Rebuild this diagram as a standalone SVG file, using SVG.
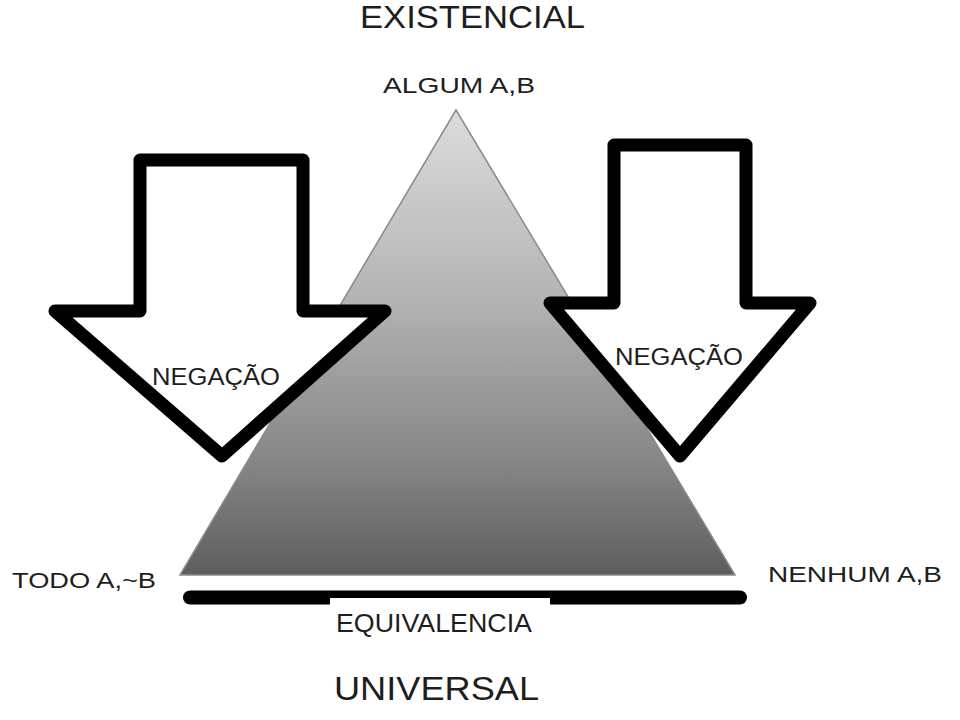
<svg xmlns="http://www.w3.org/2000/svg" width="960" height="720" viewBox="0 0 960 720">
<defs>
<linearGradient id="tri" x1="0" y1="0" x2="0" y2="1">
<stop offset="0" stop-color="#dcdcdc"/>
<stop offset="0.4" stop-color="#b4b4b4"/>
<stop offset="0.75" stop-color="#878787"/>
<stop offset="1" stop-color="#5e5e5e"/>
</linearGradient>
</defs>
<style>
.t{font-family:"Liberation Sans","Open Sans",sans-serif;fill:#1e1e1e}
.arrow{fill:#fff;stroke:#000;stroke-width:13;stroke-linejoin:round}
</style>
<rect width="960" height="720" fill="#fff"/>
<g id="triangle">
<polygon points="456,110 180,575 735,575" fill="url(#tri)" stroke="#8a8a8a" stroke-width="1.5"/>
</g>
<g id="arrow-left">
<polygon class="arrow" points="140,160 303,160 303,311 385,311 222,456 55,311 140,311"/>
<text class="t" x="152" y="385" font-size="23" textLength="128" lengthAdjust="spacingAndGlyphs">NEGAÇÃO</text>
</g>
<g id="arrow-right">
<polygon class="arrow" points="614,145 746,145 746,303 810,303 680,456 550,303 614,303"/>
<text class="t" x="615" y="365" font-size="23" textLength="128" lengthAdjust="spacingAndGlyphs">NEGAÇÃO</text>
</g>
<g id="connectors">
<line x1="190" y1="597.5" x2="740" y2="597.5" stroke="#000" stroke-width="14" stroke-linecap="round"/>
<rect x="330" y="598" width="220" height="9" fill="#fff"/>
</g>
<g id="labels">
<text class="t" x="360" y="28" font-size="32" textLength="225" lengthAdjust="spacingAndGlyphs">EXISTENCIAL</text>
<text class="t" x="383" y="93" font-size="22" textLength="152" lengthAdjust="spacingAndGlyphs">ALGUM A,B</text>
<text class="t" x="12" y="588" font-size="22" textLength="144" lengthAdjust="spacingAndGlyphs">TODO A,~B</text>
<text class="t" x="768" y="582" font-size="22" textLength="174" lengthAdjust="spacingAndGlyphs">NENHUM A,B</text>
<text class="t" x="336" y="632" font-size="25" textLength="196" lengthAdjust="spacingAndGlyphs">EQUIVALENCIA</text>
<text class="t" x="334" y="700" font-size="34" textLength="205" lengthAdjust="spacingAndGlyphs">UNIVERSAL</text>
</g>
</svg>
